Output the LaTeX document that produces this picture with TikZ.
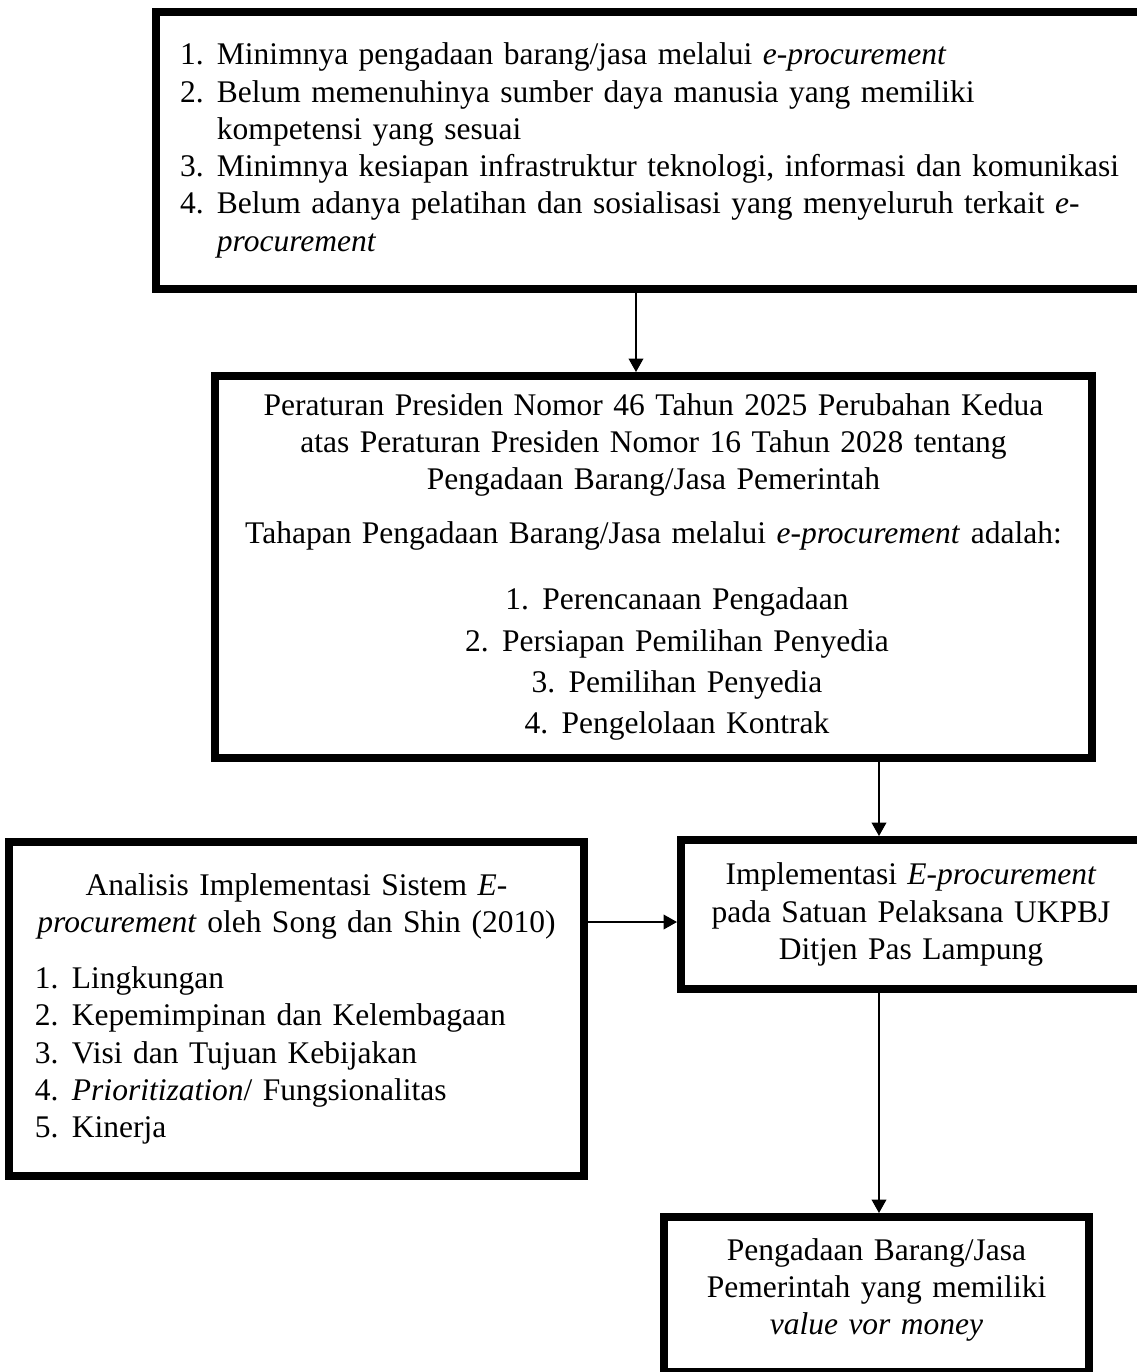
\documentclass[tikz,border=0pt]{standalone}
\usepackage{fontspec}
\setmainfont{Liberation Serif}
\usetikzlibrary{arrows.meta}
\newlength\px
\setlength\px{0.373pt}
\newcommand{\itemno}[1]{\makebox[37\px][l]{#1}}
\newcommand{\stepno}[1]{\makebox[37\px][l]{#1}}

\begin{document}
\begin{tikzpicture}[x=1\px, y=-1\px,
    box/.style={rectangle, draw, line width=3pt, inner xsep=24\px, inner ysep=0pt, font=\fontsize{11.75pt}{13.9pt}\selectfont},
    flow/.style={-{Triangle[width=5.5pt,length=5pt]}, line width=0.5pt}
]
    \useasboundingbox (0,0) rectangle (1137,1372);

    % Boxes
    \node[box, align=left, text width=937\px, minimum height=277\px] (problem) at (648.5,150.5) {%
        \itemno{1.}Minimnya pengadaan barang/jasa melalui \textit{e-procurement}\\
        \itemno{2.}Belum memenuhinya sumber daya manusia yang memiliki\\
        \itemno{}kompetensi yang sesuai\\
        \mbox{\itemno{3.}Minimnya kesiapan infrastruktur teknologi, informasi dan komunikasi}\\
        \itemno{4.}Belum adanya pelatihan dan sosialisasi yang menyeluruh terkait \textit{e-}\\
        \itemno{}\textit{procurement}};
    \node[box, align=center, text width=829\px, minimum height=382\px] (rule) at (653.5,567) {%
        Peraturan Presiden Nomor 46 Tahun 2025 Perubahan Kedua\\
        atas Peraturan Presiden Nomor 16 Tahun 2028 tentang\\
        Pengadaan Barang/Jasa Pemerintah\\[6pt]
        \mbox{Tahapan Pengadaan Barang/Jasa melalui \textit{e-procurement} adalah:}\\[11pt]
        \hspace*{47\px}\stepno{1.}Perencanaan Pengadaan\\[1.5pt]
        \hspace*{47\px}\stepno{2.}Persiapan Pemilihan Penyedia\\[1.5pt]
        \hspace*{47\px}\stepno{3.}Pemilihan Penyedia\\[1.5pt]
        \hspace*{47\px}\stepno{4.}Pengelolaan Kontrak};
    \node[box, align=left, inner xsep=26\px, text width=523\px, minimum height=334\px] (analysis) at (296.5,1009) {%
        \makebox[\linewidth]{Analisis Implementasi Sistem \textit{E-}}\\
        \makebox[\linewidth]{\textit{procurement} oleh Song dan Shin (2010)}\\[7pt]
        \itemno{1.}Lingkungan\\
        \itemno{2.}Kepemimpinan dan Kelembagaan\\
        \itemno{3.}Visi dan Tujuan Kebijakan\\
        \itemno{4.}\textit{Prioritization}/ Fungsionalitas\\
        \itemno{5.}Kinerja};
    \node[box, align=center, text width=412\px, minimum height=149\px] (impl) at (911,914.5) {%
        Implementasi \textit{E-procurement}\\
        pada Satuan Pelaksana UKPBJ\\
        Ditjen Pas Lampung};
    \node[box, align=center, text width=377\px, minimum height=155\px] (result) at (876.5,1294.5) {%
        Pengadaan Barang/Jasa\\
        Pemerintah yang memiliki\\
        \textit{value vor money}\\[-21\px]\mbox{}};

    % Arrows
    \coordinate (c1) at (636,0);
    \coordinate (c2) at (879,0);
    \coordinate (c3) at (0,922);
    \draw[flow] (c1 |- problem.south) -- (c1 |- rule.north);
    \draw[flow] (c2 |- rule.south) -- (c2 |- impl.north);
    \draw[flow] (analysis.east |- c3) -- (impl.west |- c3);
    \draw[flow] (c2 |- impl.south) -- (c2 |- result.north);
\end{tikzpicture}
\end{document}
